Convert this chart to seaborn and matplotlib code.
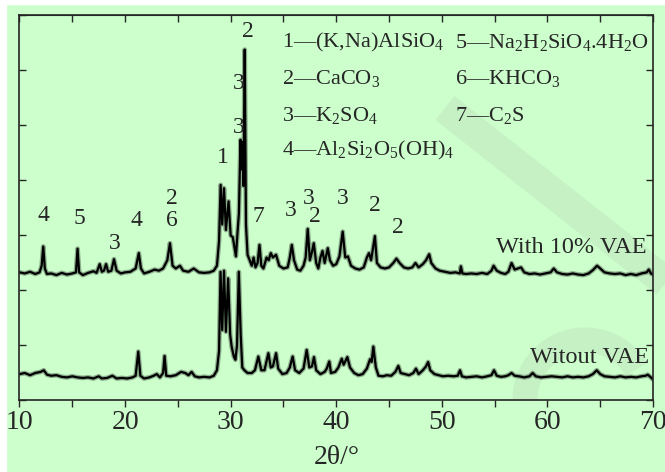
import numpy as np
import pandas as pd
import matplotlib
matplotlib.use("Agg")
import matplotlib.pyplot as plt
import seaborn as sns
from matplotlib.patches import Rectangle, Arc
from matplotlib.lines import Line2D
from matplotlib.ticker import MultipleLocator

# --- data (2theta in degrees, intensity in arbitrary units) ---
vae_2theta = [10.0, 10.5, 11.0, 11.5, 11.9, 12.1, 12.25, 12.4, 12.6, 13.0, 13.5, 14.0, 14.5, 15.0,
              15.35, 15.5, 15.65, 16.0, 16.5, 17.0, 17.3, 17.6, 17.8, 18.0, 18.2, 18.4, 18.7, 18.95,
              19.2, 19.6, 20.0, 20.5, 21.0, 21.3, 21.5, 21.8, 22.3, 22.8, 23.2, 23.6, 24.0, 24.25,
              24.5, 24.8, 25.2, 25.5, 26.0, 26.5, 27.0, 27.5, 28.0, 28.4, 28.7, 28.9, 29.05, 29.2,
              29.37, 29.55, 29.8, 30.0, 30.2, 30.5, 30.63, 30.78, 30.93, 31.03, 31.13, 31.22, 31.33,
              31.45, 31.6, 31.8, 32.0, 32.17, 32.35, 32.55, 32.73, 32.9, 33.1, 33.4, 33.6, 33.8, 34.0,
              34.3, 34.6, 35.0, 35.4, 35.6, 35.79, 36.0, 36.3, 36.6, 36.9, 37.1, 37.3, 37.5, 37.7,
              37.87, 38.1, 38.3, 38.5, 38.7, 38.9, 39.2, 39.4, 39.7, 40.0, 40.3, 40.61, 40.85, 41.1,
              41.4, 41.8, 42.2, 42.6, 42.9, 43.1, 43.3, 43.66, 43.85, 44.2, 44.6, 45.0, 45.4, 45.7,
              46.0, 46.4, 46.8, 47.2, 47.5, 47.8, 48.2, 48.5, 48.8, 49.0, 49.4, 49.8, 50.3, 50.8,
              51.3, 51.7, 51.8, 51.95, 52.3, 52.8, 53.3, 53.8, 54.3, 54.7, 54.9, 55.2, 55.6, 56.0,
              56.3, 56.6, 56.9, 57.2, 57.5, 57.8, 58.3, 58.8, 59.3, 59.8, 60.3, 60.6, 60.9, 61.4,
              61.9, 62.4, 62.9, 63.4, 63.9, 64.3, 64.7, 65.0, 65.4, 65.9, 66.4, 66.9, 67.4, 67.9,
              68.4, 68.9, 69.4, 69.6, 69.8, 70.0]
vae_intensity = [2.33, 2.31, 2.34, 2.30, 2.33, 2.45, 2.80, 2.40, 2.30, 2.31, 2.28, 2.32, 2.29, 2.31,
                 2.33, 2.76, 2.33, 2.28, 2.32, 2.35, 2.32, 2.48, 2.34, 2.36, 2.48, 2.34, 2.36, 2.57,
                 2.36, 2.31, 2.33, 2.34, 2.40, 2.68, 2.40, 2.31, 2.34, 2.38, 2.36, 2.40, 2.55, 2.86,
                 2.45, 2.40, 2.45, 2.36, 2.34, 2.40, 2.33, 2.32, 2.33, 2.36, 2.45, 2.90, 3.92, 3.20,
                 3.86, 3.10, 3.62, 3.00, 2.97, 2.62, 3.00, 3.40, 4.74, 4.20, 4.70, 3.90, 6.38,
                 3.20, 2.65, 2.55, 2.45, 2.60, 2.42, 2.50, 2.83, 2.45, 2.40, 2.60, 2.55, 2.68, 2.60,
                 2.65, 2.45, 2.40, 2.42, 2.60, 2.83, 2.55, 2.38, 2.36, 2.45, 2.60, 3.12, 2.55, 2.70,
                 2.86, 2.50, 2.40, 2.60, 2.72, 2.50, 2.77, 2.55, 2.45, 2.48, 2.62, 3.07, 2.60, 2.62,
                 2.45, 2.40, 2.38, 2.42, 2.60, 2.68, 2.55, 2.99, 2.50, 2.42, 2.40, 2.42, 2.50, 2.58,
                 2.50, 2.42, 2.40, 2.42, 2.50, 2.42, 2.48, 2.55, 2.66, 2.50, 2.40, 2.36, 2.34, 2.32,
                 2.33, 2.31, 2.44, 2.31, 2.30, 2.31, 2.30, 2.32, 2.30, 2.36, 2.45, 2.36, 2.32, 2.30,
                 2.34, 2.50, 2.38, 2.40, 2.42, 2.33, 2.30, 2.31, 2.29, 2.31, 2.33, 2.40, 2.33, 2.30,
                 2.29, 2.31, 2.29, 2.28, 2.31, 2.37, 2.45, 2.40, 2.33, 2.31, 2.30, 2.31, 2.28, 2.30,
                 2.28, 2.31, 2.33, 2.38, 2.31, 2.29]

plain_2theta = [10.0, 10.5, 11.0, 11.5, 12.0, 12.3, 12.6, 13.0, 13.5, 14.0, 14.5, 15.0, 15.5, 16.0,
                16.5, 17.0, 17.5, 17.8, 18.3, 18.8, 19.2, 19.7, 20.2, 20.7, 21.0, 21.25, 21.45, 21.8,
                22.3, 22.7, 23.0, 23.3, 23.6, 23.74, 23.9, 24.3, 24.8, 25.3, 25.7, 26.0, 26.3, 26.6,
                27.0, 27.5, 28.0, 28.4, 28.7, 28.9, 29.04, 29.2, 29.37, 29.55, 29.76, 29.95, 30.1,
                30.3, 30.45, 30.6, 30.77, 30.95, 31.1, 31.3, 31.6, 32.0, 32.3, 32.62, 32.9, 33.2,
                33.57, 33.8, 34.0, 34.3, 34.5, 34.9, 35.3, 35.6, 35.87, 36.1, 36.5, 36.9, 37.2, 37.45,
                37.7, 37.89, 38.1, 38.5, 38.9, 39.1, 39.34, 39.5, 39.9, 40.2, 40.52, 40.7, 41.05, 41.3,
                41.7, 42.1, 42.5, 42.9, 43.2, 43.35, 43.51, 43.75, 44.0, 44.4, 44.8, 45.2, 45.6, 45.88,
                46.1, 46.5, 46.9, 47.3, 47.55, 47.8, 48.2, 48.5, 48.7, 48.9, 49.3, 49.7, 50.1, 50.6,
                51.1, 51.5, 51.72, 51.9, 52.3, 52.8, 53.3, 53.8, 54.3, 54.7, 54.94, 55.2, 55.6, 56.0,
                56.3, 56.6, 56.9, 57.3, 57.8, 58.3, 58.6, 58.9, 59.4, 59.9, 60.4, 60.9, 61.4, 61.9,
                62.4, 62.9, 63.4, 63.9, 64.3, 64.67, 65.0, 65.4, 65.9, 66.4, 66.9, 67.4, 67.9, 68.4,
                68.9, 69.3, 69.5, 69.8, 70.0]
plain_intensity = [0.48, 0.50, 0.46, 0.50, 0.52, 0.55, 0.47, 0.45, 0.46, 0.43, 0.42, 0.44, 0.42, 0.41,
                   0.42, 0.40, 0.44, 0.40, 0.41, 0.45, 0.40, 0.41, 0.40, 0.42, 0.45, 0.89, 0.45, 0.40,
                   0.42, 0.45, 0.48, 0.42, 0.50, 0.81, 0.45, 0.44, 0.46, 0.52, 0.50, 0.46, 0.52, 0.44,
                   0.42, 0.43, 0.42, 0.45, 0.55, 0.90, 2.34, 1.28, 2.36, 1.25, 2.22, 1.20, 0.97,
                   0.80, 0.74, 1.00, 2.34, 1.20, 0.60, 0.55, 0.50, 0.50, 0.55, 0.80, 0.55, 0.55,
                   0.86, 0.60, 0.62, 0.86, 0.58, 0.48, 0.50, 0.60, 0.80, 0.55, 0.50, 0.58, 0.92, 0.60,
                   0.62, 0.79, 0.55, 0.48, 0.52, 0.58, 0.71, 0.50, 0.52, 0.60, 0.76, 0.65, 0.79, 0.60,
                   0.50, 0.46, 0.48, 0.58, 0.75, 0.70, 0.98, 0.60, 0.45, 0.44, 0.46, 0.45, 0.52, 0.63,
                   0.50, 0.48, 0.46, 0.50, 0.58, 0.48, 0.55, 0.62, 0.70, 0.55, 0.48, 0.46, 0.44, 0.45,
                   0.44, 0.45, 0.55, 0.44, 0.42, 0.43, 0.44, 0.42, 0.44, 0.46, 0.55, 0.45, 0.43, 0.44,
                   0.46, 0.50, 0.45, 0.44, 0.42, 0.44, 0.50, 0.44, 0.42, 0.43, 0.44, 0.43, 0.42, 0.44,
                   0.42, 0.43, 0.42, 0.44, 0.48, 0.55, 0.48, 0.44, 0.43, 0.42, 0.44, 0.42, 0.43, 0.42,
                   0.44, 0.45, 0.47, 0.42, 0.38]

# peak labels: (text, 2theta, height)
peak_labels = ["4", "5", "3", "4", "2", "6", "1", "3", "3", "2", "7", "3", "3", "2", "3", "2", "2"]
peak_x = [12.25, 15.70, 19.0, 21.09, 24.43, 24.43, 29.24, 30.72, 30.72, 31.64, 32.66, 35.67,
          37.35, 37.96, 40.61, 43.66, 45.83]
peak_y = [3.37, 3.30, 2.86, 3.28, 3.68, 3.28, 4.41, 4.97, 5.77, 6.70, 3.35, 3.46, 3.68, 3.35,
          3.68, 3.55, 3.15]

phase_col1 = ["1—(K,Na)AlSiO$_4$", "2—CaCO$_3$", "3—K$_2$SO$_4$", "4—Al$_2$Si$_2$O$_5$(OH)$_4$"]
phase_col2 = ["5—Na$_2$H$_2$SiO$_4$.4H$_2$O", "6—KHCO$_3$", "7—C$_2$S"]

series_names = ["With 10% VAE", "Witout VAE"]

# --- styling ---
sns.set_style("ticks")
plt.rcParams['font.family'] = ['Liberation Serif', 'DejaVu Serif']
plt.rcParams['mathtext.fontset'] = 'custom'
plt.rcParams['mathtext.rm'] = 'Liberation Serif'
plt.rcParams['mathtext.default'] = 'regular'

bg = "#CCFFCC"
W, H = 665, 472
fig = plt.figure(figsize=(6.65, 4.72), dpi=100, facecolor=bg)
ax = fig.add_axes([0.0293, 0.1515, 0.9527, 0.8157])
ax.patch.set_alpha(0)

# white margins at top and left, as in the scan
fig.patches.append(Rectangle((0, 0), 6 / W, 1, transform=fig.transFigure, color="white", zorder=-2))
fig.patches.append(Rectangle((0, 1 - 4 / H), 1, 4 / H, transform=fig.transFigure, color="white", zorder=-2))

# faint watermark stroke behind the chart
band = "#C5F1C5"
fig.lines.append(Line2D([445 / W, 1.02], [1 - 108 / H, 1 - 292 / H], transform=fig.transFigure,
                        color=band, lw=22, solid_capstyle="butt", zorder=-1))
fig.patches.append(Arc((585 / W, 1 - 400 / H), 120 / W, 120 / H, theta1=40, theta2=180,
                       transform=fig.transFigure, color=band, lw=18, zorder=-1))

df = pd.concat([
    pd.DataFrame({"two_theta": vae_2theta, "intensity": vae_intensity, "sample": series_names[0]}),
    pd.DataFrame({"two_theta": plain_2theta, "intensity": plain_intensity, "sample": series_names[1]}),
])
# grey halo under the black trace stands in for the scan noise
sns.lineplot(data=df, x="two_theta", y="intensity", units="sample", estimator=None, sort=False,
             color="#4a5a4a", lw=3.4, alpha=0.5, ax=ax, legend=False)
sns.lineplot(data=df, x="two_theta", y="intensity", units="sample", estimator=None, sort=False,
             color="black", lw=1.6, ax=ax, legend=False)

ax.set_xlim(10, 70)
ax.set_ylim(0, 7)
ax.xaxis.set_major_locator(MultipleLocator(10))
ax.xaxis.set_minor_locator(MultipleLocator(5))
ax.yaxis.set_major_locator(MultipleLocator(1))
ax.set_yticklabels([])
ax.tick_params(axis="x", which="both", direction="out", length=5, width=1, labelsize=20, pad=2,
               top=False)
ax.tick_params(axis="y", which="both", direction="in", length=5, width=1, left=True, right=True)
ax.set_xlabel("2θ/°", fontsize=20, labelpad=7)
ax.set_ylabel("")
# inward ticks along the top edge
top = ax.secondary_xaxis("top")
top.xaxis.set_major_locator(MultipleLocator(5))
top.tick_params(direction="in", length=5, width=1, labeltop=False)
top.set_xticklabels([])
for s in ax.spines.values():
    s.set_linewidth(1.2)
    s.set_visible(True)

for t, x, y in zip(peak_labels, peak_x, peak_y):
    ax.text(x, y, t, fontsize=17, ha="center", va="center")

rows_y = [6.50, 5.86, 5.19, 4.55]
for t, y in zip(phase_col1, rows_y):
    ax.text(34.86, y, t, fontsize=16, ha="left", va="center")
for t, y in zip(phase_col2, rows_y):
    ax.text(51.24, y, t, fontsize=16, ha="left", va="center")

ax.text(69.43, 2.79, series_names[0], fontsize=17.5, ha="right", va="center")
ax.text(69.62, 0.79, series_names[1], fontsize=17.5, ha="right", va="center")

fig.savefig("out.png", dpi=100, facecolor=bg)
